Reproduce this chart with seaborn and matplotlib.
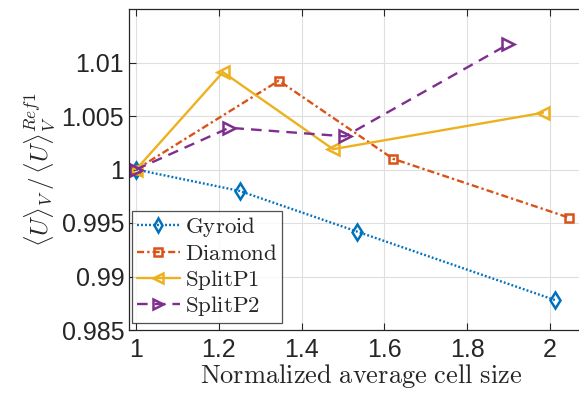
import numpy as np
import pandas as pd
import matplotlib
matplotlib.use("Agg")
import matplotlib.pyplot as plt
import seaborn as sns

# data
gyroid_x = [1.0, 1.25, 1.534, 2.012]
gyroid_y = [1.0, 0.998, 0.9942, 0.9878]
diamond_x = [1.0, 1.345, 1.621, 2.046]
diamond_y = [1.0, 1.0083, 1.001, 0.9955]
splitp1_x = [1.0, 1.21, 1.476, 1.983]
splitp1_y = [1.0, 1.0091, 1.0019, 1.0053]
splitp2_x = [1.0, 1.225, 1.505, 1.899]
splitp2_y = [1.0, 1.0039, 1.0031, 1.0117]

# name, x, y, colour, dash pattern (None = solid), marker, marker size
series = [
    ("Gyroid", gyroid_x, gyroid_y, "#0072BD", (0.8, 0.9), "d", 8),
    ("Diamond", diamond_x, diamond_y, "#D95319", (3, 1.3, 1, 1.3), "s", 6),
    ("SplitP1", splitp1_x, splitp1_y, "#EDB120", None, "<", 8),
    ("SplitP2", splitp2_x, splitp2_y, "#7E2F8E", (4.5, 3), ">", 8),
]

sns.set_style("whitegrid")
plt.rcParams["font.family"] = ["Liberation Sans", "DejaVu Sans"]
plt.rcParams["mathtext.fontset"] = "cm"

fig = plt.figure(figsize=(5.79, 3.98), dpi=100)
# axes run a bit past the right edge of the figure, as in the reference
ax = fig.add_axes([129 / 579, 1 - 330 / 398, 464 / 579, 321 / 398])

for name, xs, ys, col, dash, mk, ms in series:
    df = pd.DataFrame({"x": xs, "y": ys})
    sns.lineplot(data=df, x="x", y="y", ax=ax, color=col,
                 marker=mk, markersize=ms, markerfacecolor="none",
                 markeredgecolor=col, markeredgewidth=1.8, linewidth=1.7,
                 label=name, sort=False)
    if dash is not None:
        ax.lines[-1].set_dashes(dash)

ax.set_xlim(0.983, 2.104)
ax.set_ylim(0.985, 1.015)
ax.set_xticks([1, 1.2, 1.4, 1.6, 1.8, 2])
ax.set_xticklabels(["1", "1.2", "1.4", "1.6", "1.8", "2"])
ax.set_yticks([0.985, 0.99, 0.995, 1, 1.005, 1.01])
ax.set_yticklabels(["0.985", "0.99", "0.995", "1", "1.005", "1.01"])
ax.tick_params(axis="both", labelsize=18, colors="#262626", direction="in",
               length=5, width=0.8, top=True, left=True, bottom=True)
ax.tick_params(axis="x", pad=6)
ax.grid(True, color="#DFDFDF", linewidth=0.8)
for side in ["top", "left", "bottom"]:
    ax.spines[side].set_visible(True)
    ax.spines[side].set_color("#262626")
    ax.spines[side].set_linewidth(0.9)
ax.spines["right"].set_visible(False)

ax.set_xlabel(r"$\mathrm{Normalized\ average\ cell\ size}$", fontsize=19, labelpad=0)
ax.set_ylabel(r"$\langle U\rangle_V\,/\,\langle U\rangle_V^{Ref1}$", fontsize=18, labelpad=3)

leg = ax.legend(loc="lower left", bbox_to_anchor=(3 / 464, 7 / 321),
                borderaxespad=0, frameon=True, fancybox=False,
                edgecolor="#262626", borderpad=0.2, labelspacing=0.12,
                handlelength=1.9, handletextpad=0.2, markerscale=0.85,
                prop={"size": 16.5})
for t in leg.get_texts():
    t.set_text(r"$\mathrm{" + t.get_text() + "}$")
leg.get_frame().set_linewidth(0.9)

fig.savefig("out.png", dpi=100)
